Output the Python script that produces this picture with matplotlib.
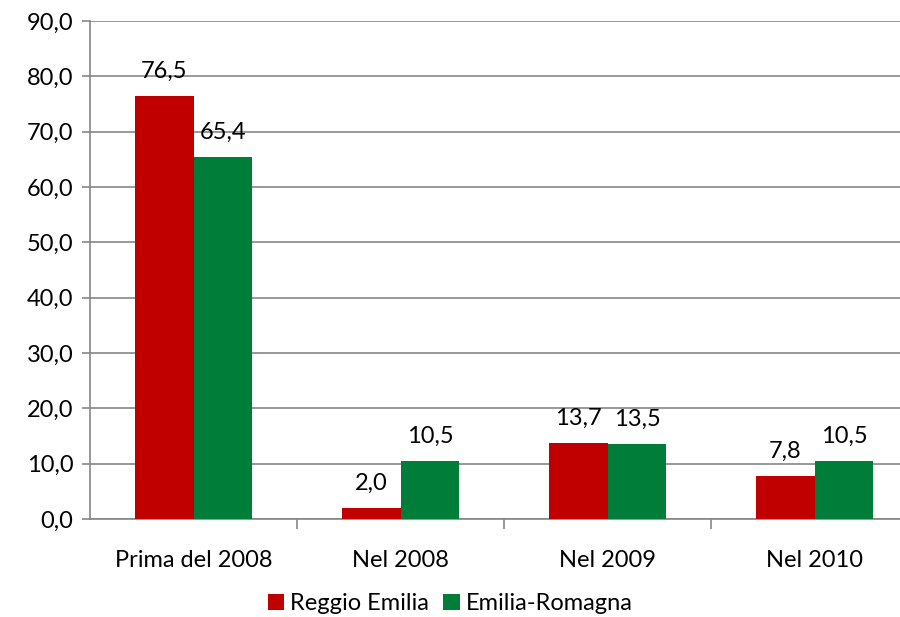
import matplotlib

matplotlib.use("Agg")
import matplotlib.pyplot as plt
import numpy as np

categories = ["Prima del 2008", "Nel 2008", "Nel 2009", "Nel 2010"]
reggio = [76.5, 2.0, 13.7, 7.8]
emilia = [65.4, 10.5, 13.5, 10.5]
series_names = ["Reggio Emilia", "Emilia-Romagna"]
yticks = [0, 10, 20, 30, 40, 50, 60, 70, 80, 90]

RED = "#C00000"
GREEN = "#007E39"
GRID = "#868686"
FS = 17

plt.rcParams["font.family"] = ["Lato", "DejaVu Sans"]

fig = plt.figure(figsize=(9, 6.17), dpi=100)
ax = fig.add_axes([0.1, 0.1588, 0.92, 0.807])

x = np.arange(len(categories))
w = 0.285
b1 = ax.bar(x - w / 2, reggio, w, color=RED, label=series_names[0], zorder=3)
b2 = ax.bar(x + w / 2, emilia, w, color=GREEN, label=series_names[1], zorder=3)

for bars, vals in ((b1, reggio), (b2, emilia)):
    for rect, v in zip(bars, vals):
        ax.text(rect.get_x() + rect.get_width() / 2, v + 2.6,
                f"{v:.1f}".replace(".", ","), ha="center", va="bottom",
                fontsize=FS, color="black")

ax.set_ylim(0, 90)
ax.set_xlim(-0.5, 3.5)
ax.set_yticks(yticks)
ax.set_yticklabels([f"{t:.1f}".replace(".", ",") for t in yticks], fontsize=FS)
ax.yaxis.grid(True, color=GRID, linewidth=1.2, zorder=0)
ax.tick_params(axis="y", length=6, color=GRID, width=1.2, pad=6)

ax.set_xticks(x)
ax.set_xticklabels(categories, fontsize=FS)
ax.tick_params(axis="x", length=0, pad=22)
ax.set_xticks([0.5, 1.5, 2.5], minor=True)
ax.tick_params(axis="x", which="minor", length=7, color=GRID, width=1.2)

for s in ("top", "right"):
    ax.spines[s].set_visible(False)
for s in ("left", "bottom"):
    ax.spines[s].set_color(GRID)
    ax.spines[s].set_linewidth(1.2)

fig.legend(handles=[b1, b2], labels=series_names, loc="lower center",
           bbox_to_anchor=(0.5, -0.03), ncol=2, frameon=False, fontsize=FS,
           handlelength=0.7, handleheight=0.7, handletextpad=0.25,
           columnspacing=0.6)

fig.savefig("out.png", dpi=100)
